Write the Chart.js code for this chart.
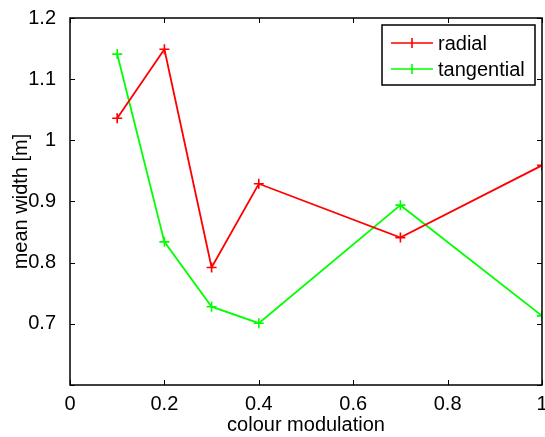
<!DOCTYPE html>
<html>
<head>
<meta charset="utf-8">
<script src="https://cdn.jsdelivr.net/npm/chart.js@4"></script>
<style>
  html, body { margin: 0; padding: 0; background: #fff; }
  #wrap { width: 545px; height: 437px; position: relative; }
</style>
</head>
<body>
<div id="wrap"><canvas id="widthChart"></canvas></div>
<script>
// colour modulation levels and measured mean widths
const modulation = [0.1, 0.2, 0.3, 0.4, 0.7, 1.0];
const radialWidth = [1.036, 1.149, 0.792, 0.929, 0.841, 0.959];
const tangentialWidth = [1.141, 0.834, 0.728, 0.701, 0.894, 0.713];
const xTicks = [0, 0.2, 0.4, 0.6, 0.8, 1];
const yTicks = [0.6, 0.7, 0.8, 0.9, 1.0, 1.1, 1.2];

const FONT = "'Liberation Sans', Arial, Helvetica, sans-serif";
const fmt = v => String(Number(v.toFixed(1)));

function toPoints(ys) {
  return modulation.map((x, i) => ({ x: x, y: ys[i] }));
}

// box around the axes with inward ticks on every side, x tick labels, legend
const boxPlugin = {
  id: "box",
  afterDraw(chart) {
    const ctx = chart.ctx;
    const a = chart.chartArea;
    const xs = chart.scales.x, ys = chart.scales.y;
    const tick = 5;
    ctx.save();
    ctx.strokeStyle = "#000";
    ctx.lineWidth = 1.5;
    ctx.strokeRect(a.left, a.top, a.right - a.left, a.bottom - a.top);
    ctx.lineWidth = 1;
    ctx.beginPath();
    xTicks.forEach(v => {
      const px = Math.round(xs.getPixelForValue(v)) + 0.5;
      ctx.moveTo(px, a.bottom); ctx.lineTo(px, a.bottom - tick);
      ctx.moveTo(px, a.top); ctx.lineTo(px, a.top + tick);
    });
    yTicks.forEach(v => {
      const py = Math.round(ys.getPixelForValue(v)) + 0.5;
      ctx.moveTo(a.left, py); ctx.lineTo(a.left + tick, py);
      ctx.moveTo(a.right, py); ctx.lineTo(a.right - tick, py);
    });
    ctx.stroke();

    // x tick labels (the last one runs off the canvas edge)
    ctx.fillStyle = "#000";
    ctx.font = "20px " + FONT;
    ctx.textAlign = "center";
    ctx.textBaseline = "alphabetic";
    xTicks.forEach(v => {
      ctx.fillText(fmt(v), xs.getPixelForValue(v), a.bottom + 25);
    });

    // legend
    const lx = 382, ly = 25, lw = 153, lh = 60;
    ctx.fillStyle = "#fff";
    ctx.fillRect(lx, ly, lw, lh);
    ctx.strokeStyle = "#000";
    ctx.lineWidth = 1.5;
    ctx.strokeRect(lx, ly, lw, lh);
    ctx.textAlign = "left";
    ctx.textBaseline = "middle";
    chart.data.datasets.forEach((ds, i) => {
      const cy = ly + 18 + i * 26;
      ctx.strokeStyle = ds.borderColor;
      ctx.lineWidth = 1.6;
      ctx.beginPath();
      ctx.moveTo(lx + 9, cy); ctx.lineTo(lx + 51, cy);
      ctx.moveTo(lx + 30, cy - 5); ctx.lineTo(lx + 30, cy + 5);
      ctx.stroke();
      ctx.fillStyle = "#000";
      ctx.fillText(ds.label, lx + 56, cy + 1);
    });
    ctx.restore();
  }
};

const lineStyle = {
  borderWidth: 1.8,
  pointStyle: "cross",
  pointRadius: 5,
  pointBorderWidth: 1.6,
  fill: false,
  tension: 0
};

new Chart(document.getElementById("widthChart"), {
  type: "line",
  data: {
    datasets: [
      Object.assign({
        label: "radial",
        data: toPoints(radialWidth),
        borderColor: "#ff0000",
        backgroundColor: "#ff0000"
      }, lineStyle),
      Object.assign({
        label: "tangential",
        data: toPoints(tangentialWidth),
        borderColor: "#00ff00",
        backgroundColor: "#00ff00"
      }, lineStyle)
    ]
  },
  options: {
    responsive: true,
    maintainAspectRatio: false,
    animation: false,
    layout: { autoPadding: false, padding: { top: 18, right: 2, left: 0, bottom: 0 } },
    plugins: {
      legend: { display: false },
      tooltip: { enabled: false }
    },
    scales: {
      x: {
        type: "linear",
        min: 0,
        max: 1,
        afterBuildTicks(scale) { scale.ticks = xTicks.map(v => ({ value: v })); },
        afterFit(scale) { scale.height = 52; },
        grid: { display: false },
        border: { display: false },
        ticks: {
          color: "#000",
          font: { family: FONT, size: 20 },
          maxRotation: 0,
          callback: () => ""
        },
        title: {
          display: true,
          text: "colour modulation",
          color: "#000",
          font: { family: FONT, size: 20 },
          padding: { top: 0, bottom: 0 }
        }
      },
      y: {
        min: 0.6,
        max: 1.2,
        afterBuildTicks(scale) { scale.ticks = yTicks.map(v => ({ value: v })); },
        afterFit(scale) { scale.width = 70; },
        grid: { display: false },
        border: { display: false },
        ticks: {
          color: "#000",
          font: { family: FONT, size: 20 },
          padding: 6,
          callback: v => (Math.abs(v - 0.6) < 1e-6 ? "" : fmt(v))
        },
        title: {
          display: true,
          text: "mean width [m]",
          color: "#000",
          font: { family: FONT, size: 20 },
          padding: { top: 9, bottom: 0 }
        }
      }
    }
  },
  plugins: [boxPlugin]
});
</script>
</body>
</html>
